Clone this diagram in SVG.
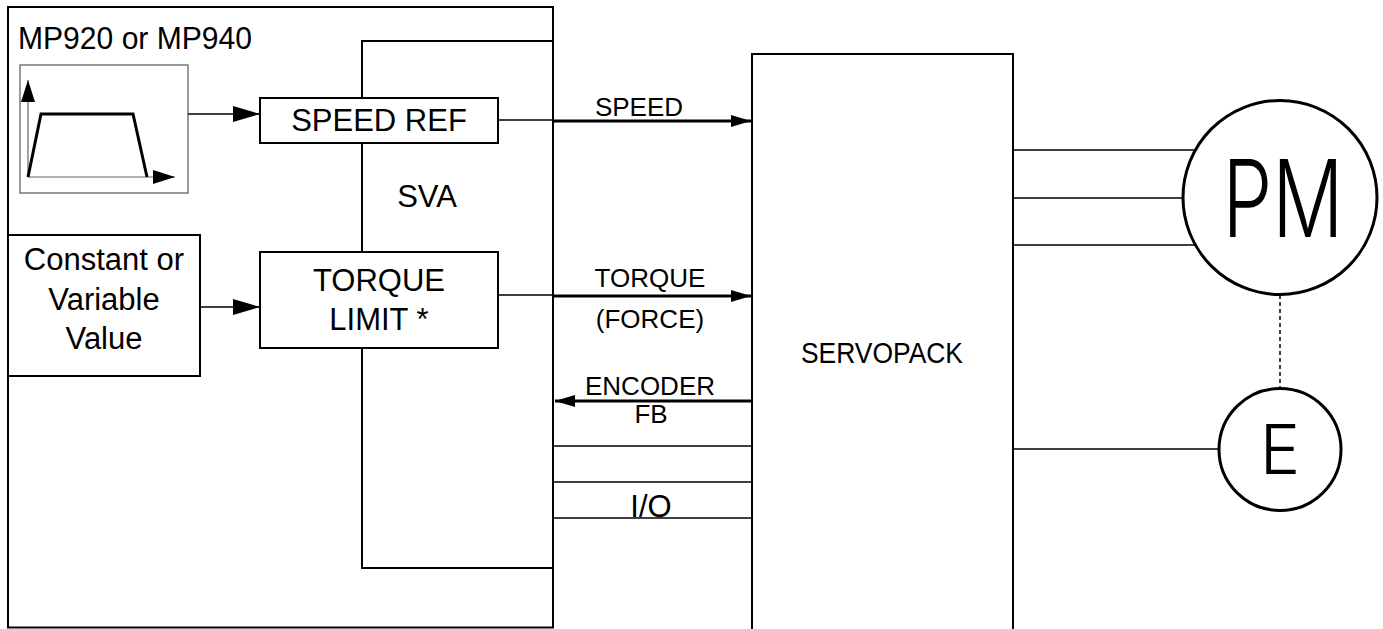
<svg xmlns="http://www.w3.org/2000/svg" width="1383" height="629" viewBox="0 0 1383 629">
<defs>
<style>
.box{fill:#fff;stroke:#000;stroke-width:2}
.thin{fill:none;stroke:#000;stroke-width:1.5}
.thick{fill:none;stroke:#000;stroke-width:3}
.t30{font-family:"Liberation Sans",Arial,sans-serif;font-size:31px;fill:#000;text-anchor:middle}
.t26{font-family:"Liberation Sans",Arial,sans-serif;font-size:26px;fill:#000;text-anchor:middle}
.cad{font-family:Inter,Roboto,"DejaVu Sans",sans-serif;font-weight:350;fill:#000;text-anchor:middle}
</style>
<marker id="bigArrow" markerUnits="userSpaceOnUse" viewBox="0 0 27 16" refX="27" refY="8" markerWidth="27" markerHeight="16" orient="auto">
<path d="M0,0 L27,8 L0,16 z" fill="#000"/>
</marker>
<marker id="smallArrow" markerUnits="userSpaceOnUse" viewBox="0 0 20 12" refX="20" refY="6" markerWidth="20" markerHeight="12" orient="auto">
<path d="M0,0 L20,6 L0,12 z" fill="#000"/>
</marker>
<marker id="axisArrow" markerUnits="userSpaceOnUse" viewBox="0 0 22 14" refX="22" refY="7" markerWidth="22" markerHeight="14" orient="auto">
<path d="M0,0 L22,7 L0,14 z" fill="#000"/>
</marker>
</defs>
<rect width="1383" height="629" fill="#fff"/>

<g id="mp-controller">
<rect x="8" y="7" width="545" height="620.5" fill="none" stroke="#000" stroke-width="2"/>
<text class="t30" x="18" y="49" style="text-anchor:start" textLength="234" lengthAdjust="spacingAndGlyphs">MP920 or MP940</text>
</g>

<g id="sva">
<path d="M553,41 H362 V568 H553" fill="none" stroke="#000" stroke-width="2"/>
<text class="t30" x="427" y="207">SVA</text>
</g>

<g id="profile">
<rect x="20" y="65" width="168" height="128" fill="#fff" stroke="#555" stroke-width="1.2"/>
<line x1="28" y1="177" x2="28" y2="80" stroke="#666" stroke-width="1.2" marker-end="url(#axisArrow)"/>
<line x1="28" y1="177" x2="175" y2="177" stroke="#666" stroke-width="1.2" marker-end="url(#axisArrow)"/>
<path d="M28,177 L41,114 H133 L147,177" fill="none" stroke="#000" stroke-width="3" stroke-linejoin="miter"/>
</g>

<g id="speed-ref">
<rect class="box" x="260" y="98" width="238" height="45"/>
<text class="t30" x="379" y="131">SPEED REF</text>
</g>

<g id="constant-value">
<rect class="box" x="8" y="235" width="192" height="141"/>
<text class="t30" x="104" y="270">Constant or</text>
<text class="t30" x="104" y="310">Variable</text>
<text class="t30" x="104" y="349">Value</text>
</g>

<g id="torque-limit">
<rect class="box" x="260" y="252" width="238" height="96"/>
<text class="t30" x="379" y="291">TORQUE</text>
<text class="t30" x="379" y="330">LIMIT *</text>
</g>

<g id="servopack">
<path d="M752,640 V54 H1013 V640" fill="none" stroke="#000" stroke-width="2"/>
<text class="t30" x="882" y="363" style="font-size:29px" textLength="162" lengthAdjust="spacingAndGlyphs">SERVOPACK</text>
</g>

<g id="motor-pm">
<circle cx="1280" cy="197.5" r="97" fill="#fff" stroke="#000" stroke-width="3"/>
<text class="cad" transform="translate(1283,237) scale(0.74,1)" x="0" y="0" font-size="107">PM</text>
</g>

<g id="encoder-e">
<circle cx="1280" cy="449.5" r="61" fill="#fff" stroke="#000" stroke-width="3"/>
<text class="cad" x="1280" y="474" font-size="68">E</text>
</g>

<g id="connectors">
<line x1="188" y1="114" x2="260" y2="114" class="thin" marker-end="url(#bigArrow)"/>
<line x1="200" y1="307" x2="260" y2="307" class="thin" marker-end="url(#bigArrow)"/>
<line x1="498" y1="120" x2="553" y2="120" class="thin"/>
<line x1="553" y1="121" x2="751" y2="121" class="thick" marker-end="url(#smallArrow)"/>
<text class="t26" x="639" y="116">SPEED</text>
<line x1="498" y1="295" x2="553" y2="295" class="thin"/>
<line x1="553" y1="296" x2="751" y2="296" class="thick" marker-end="url(#smallArrow)"/>
<text class="t26" x="650" y="287">TORQUE</text>
<text class="t26" x="650" y="328">(FORCE)</text>
<line x1="753" y1="401" x2="555" y2="401" class="thick" marker-end="url(#smallArrow)"/>
<text class="t26" x="650" y="395">ENCODER</text>
<text class="t26" x="651" y="423">FB</text>
<line x1="553" y1="446" x2="752" y2="446" class="thin"/>
<line x1="553" y1="482" x2="752" y2="482" class="thin"/>
<line x1="553" y1="518" x2="752" y2="518" class="thin"/>
<text class="t30" x="651" y="517">I/O</text>
<line x1="1013" y1="150" x2="1196" y2="150" class="thin"/>
<line x1="1013" y1="198" x2="1184" y2="198" class="thin"/>
<line x1="1013" y1="245" x2="1196" y2="245" class="thin"/>
<line x1="1013" y1="449" x2="1219" y2="449" class="thin"/>
<line x1="1280" y1="295" x2="1280" y2="388" fill="none" stroke="#000" stroke-width="1.5" stroke-dasharray="4,3"/>
</g>
</svg>
